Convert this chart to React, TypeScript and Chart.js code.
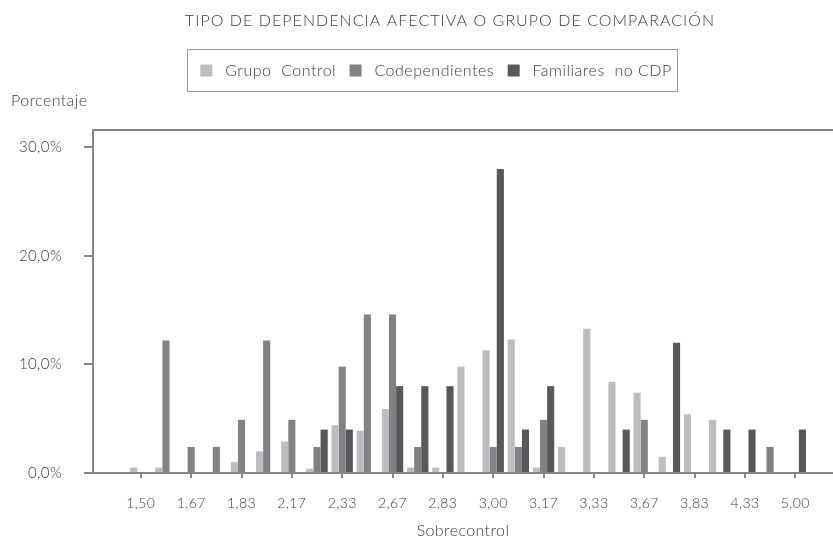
import React, { useEffect, useRef } from 'react';
import { Chart, registerables } from 'chart.js';

Chart.register(...registerables);

const titleText = 'TIPO DE DEPENDENCIA AFECTIVA O GRUPO DE COMPARACIÓN';
const yAxisLabel = 'Porcentaje';
const xAxisLabel = 'Sobrecontrol';
const seriesNames = ['Grupo  Control', 'Codependientes', 'Familiares  no CDP'];

const categories = [
  '1,50', '1,58', '1,67', '1,75', '1,83', '2,00', '2,17', '2,25', '2,33',
  '2,50', '2,67', '2,75', '2,83', '2,92', '3,00', '3,08', '3,17', '3,25',
  '3,33', '3,50', '3,67', '3,75', '3,83', '4,00', '4,33', '4,67', '5,00',
];

const controlValues = [
  0.5, 0.5, 0, 0, 1.0, 2.0, 2.9, 0.4, 4.4, 3.9, 5.9, 0.5, 0.5, 9.8,
  11.3, 12.3, 0.5, 2.4, 13.3, 8.4, 7.4, 1.5, 5.4, 4.9, 0, 0, 0,
];
const codependValues = [
  0, 12.2, 2.4, 2.4, 4.9, 12.2, 4.9, 2.4, 9.8, 14.6, 14.6, 2.4, 0, 0,
  2.4, 2.4, 4.9, 0, 0, 0, 4.9, 0, 0, 0, 0, 2.4, 0,
];
const familiaresValues = [
  0, 0, 0, 0, 0, 0, 0, 4.0, 4.0, 0, 8.0, 8.0, 8.0, 0,
  28.0, 4.0, 8.0, 0, 0, 4.0, 0, 12.0, 0, 4.0, 4.0, 0, 4.0,
];

const yTickValues = [0, 10, 20, 30];
const xTickIndexes = [0, 2, 4, 6, 8, 10, 12, 14, 16, 18, 20, 22, 24, 26];

const FONT = 'Lato';
const TEXT = '#3a3a3a';
const AXIS = '#85858a';
const COLORS = ['#bdbdc1', '#828286', '#58585a'];
const BASE_SPACING = '0.4px';

export default function App() {
  const ref = useRef<HTMLCanvasElement>(null);

  useEffect(() => {
    const canvas = ref.current;
    if (!canvas) return;

    const toPoints = (arr: number[]) => arr.map((v, i) => ({ x: i, y: v }));

    const wrap = (obj: any, name: string, before: () => void, after: () => void) => {
      const orig = obj && obj[name];
      if (typeof orig !== 'function') return;
      obj[name] = function (...a: any[]) {
        before();
        const r = orig.apply(obj, a);
        after();
        return r;
      };
    };

    const decor: any = {
      id: 'decor',
      beforeUpdate(chart: any) {
        chart.ctx.letterSpacing = BASE_SPACING;
        if (chart.$decorWrapped) return;
        chart.$decorWrapped = true;
        const ctx = chart.ctx;
        const tb = chart.titleBlock;
        if (tb) {
          wrap(tb, 'update', () => { ctx.save(); ctx.letterSpacing = '1.05px'; }, () => { ctx.restore(); tb.height = 49; });
          wrap(tb, 'draw', () => { ctx.save(); ctx.letterSpacing = '1.05px'; }, () => { ctx.restore(); });
        }
        const lg = chart.legend;
        if (lg) {
          wrap(lg, 'update', () => { ctx.save(); ctx.letterSpacing = '0.5px'; }, () => { ctx.restore(); lg.height = 43; });
          wrap(lg, 'draw', () => { ctx.save(); ctx.letterSpacing = '0.5px'; }, () => { ctx.restore(); });
        }
      },
      afterLayout(chart: any) {
        const t = chart.titleBlock;
        if (t) { t.left = 67; t.right = 833; }
        const l = chart.legend;
        if (l) { l.left = 39; l.right = 833; }
      },
      beforeDraw(chart: any) {
        chart.ctx.letterSpacing = BASE_SPACING;
      },
      afterDraw(chart: any) {
        const ctx = chart.ctx;
        const lg = chart.legend;
        ctx.save();
        if (lg && lg.legendHitBoxes && lg.legendHitBoxes.length) {
          const hb = lg.legendHitBoxes;
          const minL = Math.min(...hb.map((h: any) => h.left));
          const maxR = Math.max(...hb.map((h: any) => h.left + h.width));
          ctx.strokeStyle = '#9a9a9a';
          ctx.lineWidth = 1;
          ctx.strokeRect(Math.round(minL - 13) + 0.5, Math.round(lg.top) + 0.5, Math.round(maxR - minL + 19), Math.round(lg.height) - 1);
        }
        ctx.fillStyle = TEXT;
        ctx.font = `300 16px ${FONT}`;
        ctx.textAlign = 'left';
        ctx.textBaseline = 'middle';
        ctx.fillText(yAxisLabel, 11, chart.chartArea.top - 29);
        ctx.restore();
      },
    };

    const chart = new Chart(canvas, {
      type: 'bar',
      data: {
        datasets: [
          { label: seriesNames[0], data: toPoints(controlValues), backgroundColor: COLORS[0], borderWidth: 0 },
          { label: seriesNames[1], data: toPoints(codependValues), backgroundColor: COLORS[1], borderWidth: 0 },
          { label: seriesNames[2], data: toPoints(familiaresValues), backgroundColor: COLORS[2], borderWidth: 0 },
        ] as any,
      },
      options: {
        responsive: false,
        animation: false,
        devicePixelRatio: 1,
        layout: { padding: 0 },
        datasets: { bar: { categoryPercentage: 0.85, barPercentage: 1.0, grouped: true } } as any,
        plugins: {
          tooltip: { enabled: false },
          title: {
            display: true,
            text: titleText,
            color: TEXT,
            font: { family: FONT, size: 16, weight: '300' as any, lineHeight: 1.2 },
            padding: { top: 11.4, bottom: 18 },
          },
          legend: {
            display: true,
            position: 'top',
            labels: {
              color: TEXT,
              font: { family: FONT, size: 16, weight: '300' as any },
              boxWidth: 12,
              boxHeight: 12,
              padding: 13.5,
              generateLabels: (c: any) =>
                Chart.defaults.plugins.legend.labels.generateLabels(c).map((it: any) => ({ ...it, text: ' ' + it.text })),
            },
          },
        },
        scales: {
          x: {
            type: 'linear',
            position: 'bottom',
            offset: false,
            min: -1.9,
            max: 27.5,
            afterFit: (s: any) => { s.height = 66; },
            afterBuildTicks: (s: any) => { s.ticks = xTickIndexes.map((v) => ({ value: v })); },
            ticks: {
              color: TEXT,
              font: { family: FONT, size: 14, weight: '300' as any },
              padding: 17,
              maxRotation: 0,
              autoSkip: false,
              callback: (v: any) => categories[Number(v)] ?? '',
            },
            grid: { display: true, offset: false, drawOnChartArea: false, drawTicks: true, tickLength: 5, color: AXIS, lineWidth: 2 },
            border: { display: true, color: AXIS, width: 2 },
            title: {
              display: true,
              text: xAxisLabel,
              color: TEXT,
              font: { family: FONT, size: 16, weight: '300' as any, lineHeight: 1.0 },
              padding: { top: 0, bottom: 0 },
            },
          },
          xTop: {
            type: 'linear',
            position: 'top',
            offset: false,
            min: 0,
            max: 1,
            afterFit: (s: any) => { s.height = 38; },
            ticks: { display: false },
            grid: { display: false },
            border: { display: true, color: AXIS, width: 2 },
          },
          y: {
            type: 'linear',
            min: 0,
            max: 31.6,
            afterFit: (s: any) => { s.width = 93; },
            afterBuildTicks: (s: any) => { s.ticks = yTickValues.map((v) => ({ value: v })); },
            ticks: {
              color: TEXT,
              font: { family: FONT, size: 15, weight: '300' as any },
              padding: 22,
              callback: (v: any) => Number(v).toFixed(1).replace('.', ',') + '%',
            },
            grid: { display: true, drawOnChartArea: false, drawTicks: true, tickLength: 9, color: AXIS, lineWidth: 2 },
            border: { display: true, color: AXIS, width: 2 },
          },
        },
      } as any,
      plugins: [decor],
    });

    return () => chart.destroy();
  }, []);

  return (
    <div style={{ position: 'fixed', left: 0, top: 0, width: 833, height: 539, background: '#ffffff' }}>
      <canvas ref={ref} width={833} height={539} style={{ display: 'block', width: 833, height: 539 }} />
    </div>
  );
}
